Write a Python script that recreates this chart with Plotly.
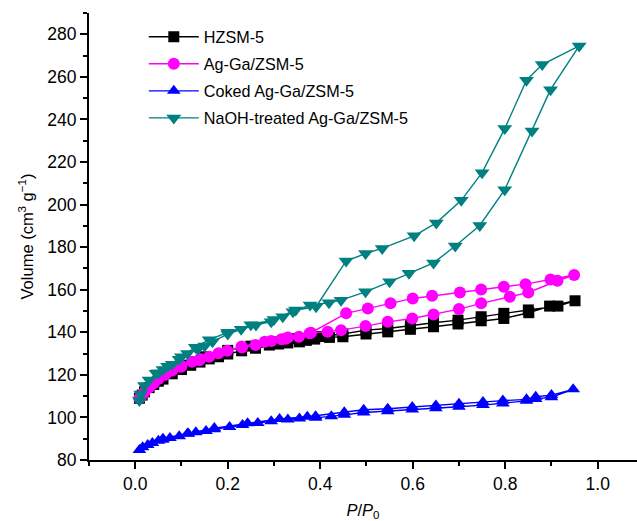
import plotly.graph_objects as go

# HZSM-5
h_ads_x = [0.009, 0.015, 0.02, 0.03, 0.04, 0.05, 0.06, 0.08, 0.1, 0.12, 0.14, 0.16, 0.18, 0.2, 0.23, 0.26, 0.29, 0.31, 0.33, 0.355, 0.37, 0.388, 0.42, 0.449, 0.499, 0.546, 0.595, 0.645, 0.698, 0.748, 0.797, 0.851, 0.896, 0.951]
h_ads_y = [109, 110.5, 112, 114, 115.5, 117, 118, 120.5, 122.5, 124.5, 126, 127.5, 128.5, 129.8, 131.3, 132.5, 134, 134.5, 135, 135.5, 136.2, 136.8, 137.6, 137.9, 139.2, 140.2, 141.4, 142.6, 143.9, 145.4, 146.5, 149.2, 152.3, 154.8]
h_des_x = [0.914, 0.85, 0.797, 0.748, 0.698, 0.645, 0.595, 0.546, 0.499, 0.449, 0.40, 0.35, 0.30, 0.25, 0.20, 0.15, 0.10]
h_des_y = [152.3, 150.5, 148.9, 147.3, 145.7, 144.5, 143.1, 141.8, 141.0, 139.2, 138.0, 137.0, 135.5, 133.5, 131.5, 128.5, 124.5]

# Ag-Ga/ZSM-5
m_ads_x = [0.009, 0.015, 0.02, 0.03, 0.04, 0.05, 0.065, 0.08, 0.099, 0.123, 0.139, 0.16, 0.199, 0.231, 0.26, 0.294, 0.316, 0.325, 0.354, 0.377, 0.416, 0.445, 0.498, 0.546, 0.599, 0.645, 0.70, 0.748, 0.81, 0.85, 0.913, 0.949]
m_ads_y = [109, 110.5, 112, 114, 116, 118, 120, 122, 123.8, 126.2, 126.9, 128.5, 131.3, 132.9, 134, 135.9, 136.7, 137, 137.9, 139.5, 140.2, 141.0, 142.9, 144.9, 146.5, 148.4, 150.9, 153.6, 156.7, 158.7, 164.2, 166.9]
m_des_x = [0.898, 0.844, 0.797, 0.748, 0.702, 0.642, 0.60, 0.552, 0.503, 0.456, 0.38, 0.33, 0.28, 0.23, 0.18, 0.14, 0.10]
m_des_y = [164.8, 162.6, 161.4, 160.1, 158.7, 157.2, 155.9, 153.6, 151.2, 148.9, 139.8, 137.5, 135.5, 133.3, 130.2, 127.5, 124.3]

# Coked Ag-Ga/ZSM-5
b_ads_x = [0.009, 0.016, 0.027, 0.037, 0.05, 0.059, 0.075, 0.095, 0.115, 0.131, 0.153, 0.171, 0.204, 0.232, 0.265, 0.294, 0.33, 0.355, 0.39, 0.424, 0.452, 0.494, 0.546, 0.599, 0.65, 0.70, 0.752, 0.795, 0.846, 0.866, 0.90, 0.947]
b_ads_y = [84.7, 86, 87, 88, 89, 89.5, 90.3, 91.2, 92.3, 93, 93.6, 94.4, 95.5, 96.4, 97.4, 98.2, 99, 99.5, 99.8, 100.5, 101.2, 102.3, 102.9, 103.7, 104.3, 105, 105.8, 106.6, 107.8, 108.7, 109.5, 113.2]
b_des_x = [0.90, 0.866, 0.846, 0.795, 0.752, 0.70, 0.65, 0.599, 0.546, 0.494, 0.452, 0.39, 0.372, 0.312, 0.243, 0.171, 0.113, 0.06]
b_des_y = [110.5, 109.7, 108.5, 107.9, 107.2, 106.4, 105.6, 104.9, 104.1, 103.6, 102.4, 100.5, 100.3, 99.3, 97.3, 95.0, 92.5, 90.0]

# NaOH-treated Ag-Ga/ZSM-5
t_ads_x = [0.009, 0.012, 0.02, 0.03, 0.045, 0.06, 0.08, 0.095, 0.113, 0.135, 0.15, 0.167, 0.2, 0.229, 0.261, 0.294, 0.319, 0.341, 0.378, 0.419, 0.445, 0.498, 0.55, 0.592, 0.645, 0.692, 0.745, 0.799, 0.858, 0.898, 0.96]
t_ads_y = [108, 111, 115, 117.6, 120.7, 122.5, 125, 127.3, 130, 132, 133.5, 135.5, 139.2, 141.4, 143.4, 145, 147.3, 149.6, 152.8, 153.9, 155.1, 159, 163.7, 167.7, 172.6, 180.5, 190.2, 207, 234.6, 254, 274.5]
t_des_x = [0.88, 0.846, 0.799, 0.75, 0.705, 0.651, 0.603, 0.534, 0.498, 0.456, 0.391, 0.347, 0.30, 0.25, 0.20, 0.16, 0.13, 0.10, 0.07, 0.05]
t_des_y = [265.8, 258.4, 235.7, 215, 202, 191.4, 185.3, 179.4, 177, 173.5, 152, 150.5, 146, 143.5, 140, 136.5, 133, 128.5, 124, 121]

names = ["HZSM-5", "Ag-Ga/ZSM-5", "Coked Ag-Ga/ZSM-5", "NaOH-treated Ag-Ga/ZSM-5"]
colors = ["#000000", "#FF00FF", "#0000FF", "#008080"]
symbols = ["square", "circle", "triangle-up", "triangle-down"]
sizes = [11, 12, 12, 13]
series = [
    (h_ads_x, h_ads_y, h_des_x, h_des_y),
    (m_ads_x, m_ads_y, m_des_x, m_des_y),
    (b_ads_x, b_ads_y, b_des_x, b_des_y),
    (t_ads_x, t_ads_y, t_des_x, t_des_y),
]

fig = go.Figure()
for i, (name, col, sym, sz, (ax, ay, dx, dy)) in enumerate(zip(names, colors, symbols, sizes, series)):
    fig.add_trace(go.Scatter(
        x=ax + dx, y=ay + dy, mode="lines+markers", name=name,
        legendgroup=f"g{i}",
        line=dict(color=col, width=1.4),
        marker=dict(color=col, symbol=sym, size=sz, line=dict(width=0)),
    ))

font_family = "Liberation Sans, Arial, sans-serif"
fig.update_layout(
    width=637, height=521,
    margin=dict(l=89, r=0, t=13, b=61),
    plot_bgcolor="white", paper_bgcolor="white",
    font=dict(family=font_family, size=17, color="black"),
    showlegend=True,
    legend=dict(x=0.1, y=0.985, xanchor="left", yanchor="top",
                font=dict(size=16.2), bgcolor="rgba(0,0,0,0)",
                itemwidth=50, tracegroupgap=3, traceorder="grouped"),
)
fig.update_xaxes(
    range=[-0.1, 1.085], tickvals=[0.0, 0.2, 0.4, 0.6, 0.8, 1.0],
    ticktext=["0.0", "0.2", "0.4", "0.6", "0.8", "1.0"],
    showgrid=False, zeroline=False, showline=True, linecolor="black", linewidth=2,
    ticks="outside", ticklen=7, tickwidth=2, tickcolor="black",
    minor=dict(tickvals=[-0.1, 0.1, 0.3, 0.5, 0.7, 0.9], ticks="outside", ticklen=4, tickwidth=2, tickcolor="black"),
    title=dict(text="<i>P</i>/<i>P</i><sub>0</sub>", font=dict(size=16.5), standoff=12),
    tickfont=dict(size=17.5),
)
fig.update_yaxes(
    range=[80, 290], tickvals=[80, 100, 120, 140, 160, 180, 200, 220, 240, 260, 280],
    showgrid=False, zeroline=False, showline=True, linecolor="black", linewidth=2,
    ticks="outside", ticklen=7, tickwidth=2, tickcolor="black",
    minor=dict(tickvals=[90, 110, 130, 150, 170, 190, 210, 230, 250, 270, 290], ticks="outside", ticklen=4, tickwidth=2, tickcolor="black"),
    title=dict(text="Volume (cm<sup>3</sup> g<sup>−1</sup>)", font=dict(size=16.5), standoff=10),
    tickfont=dict(size=17.5),
)
fig.write_html("out.html")
